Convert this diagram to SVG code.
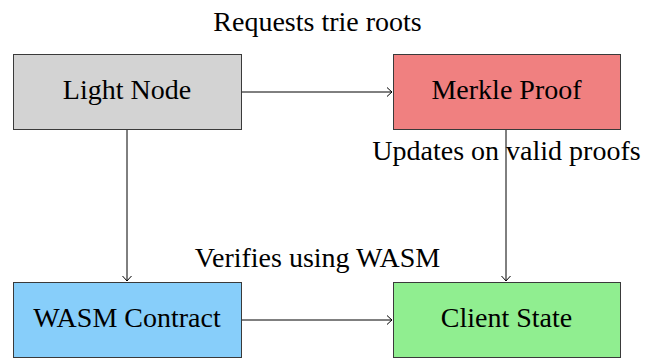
<svg xmlns="http://www.w3.org/2000/svg" width="658" height="360" viewBox="0 0 658 360">
<style>
.box{stroke:#3a3a3a;stroke-width:1}
.t{font-family:"Liberation Serif","DejaVu Serif",serif;font-size:28px;fill:#000;text-anchor:middle}
.c{stroke:#000;stroke-width:1;fill:none;marker-end:url(#ah)}
</style>
<defs>
<marker id="ah" viewBox="-6 -5 7 10" refX="0" refY="0" markerWidth="7" markerHeight="10" markerUnits="userSpaceOnUse" orient="auto">
<path d="M-5,-4.5 Q-1.5,-1.2 0,0 Q-1.5,1.2 -5,4.5" fill="none" stroke="#000" stroke-width="1"/>
</marker>
</defs>
<g id="connectors">
<line class="c" x1="241" y1="92" x2="392" y2="92"/>
<line class="c" x1="127" y1="129" x2="127" y2="281"/>
<line class="c" x1="506" y1="129" x2="506" y2="281"/>
<line class="c" x1="241" y1="320" x2="392" y2="320"/>
<text class="t" x="317.5" y="31">Requests trie roots</text>
<text class="t" x="506.5" y="160">Updates on valid proofs</text>
<text class="t" x="317.5" y="267">Verifies using WASM</text>
</g>
<g id="light-node">
<rect class="box" x="13.5" y="54.5" width="228" height="75" fill="#d3d3d3"/>
<text class="t" x="127" y="99">Light Node</text>
</g>
<g id="merkle-proof">
<rect class="box" x="393.5" y="54.5" width="227" height="75" fill="#f08080"/>
<text class="t" x="506.5" y="99">Merkle Proof</text>
</g>
<g id="wasm-contract">
<rect class="box" x="13.5" y="282.5" width="228" height="75" fill="#87cefa"/>
<text class="t" x="127" y="327">WASM Contract</text>
</g>
<g id="client-state">
<rect class="box" x="393.5" y="282.5" width="227" height="75" fill="#90ee90"/>
<text class="t" x="506.5" y="327">Client State</text>
</g>
</svg>
